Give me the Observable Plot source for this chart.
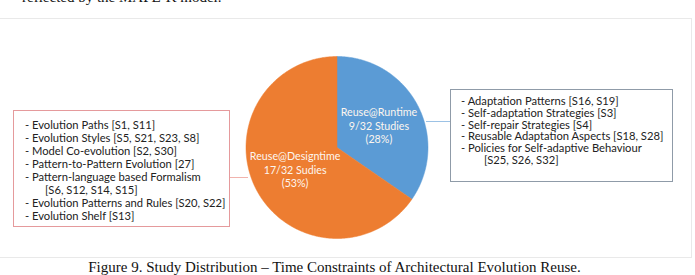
<!DOCTYPE html>
<html><head><meta charset="utf-8">
<script src="https://cdn.jsdelivr.net/npm/d3@7"></script>
<script src="https://cdn.jsdelivr.net/npm/@observablehq/plot@0.6"></script>
<style>
html,body{margin:0;padding:0;background:#fff;}
body{width:695px;height:275px;overflow:hidden;position:relative;}
#topline{position:absolute;left:22px;top:-11px;font:15px "Liberation Serif",serif;color:#111;white-space:nowrap;}
#panel{position:absolute;left:-2px;top:18px;width:693px;height:238px;border-top:1px solid #e9e9e9;border-bottom:1px solid #e9e9e9;border-right:1px solid #e9e9e9;}
#chart{position:absolute;left:0;top:0;}
.box{position:absolute;background:#fff;font-family:Lato,"Open Sans",sans-serif;font-size:11.2px;color:#222;white-space:pre;box-sizing:border-box;}
#leftbox{left:13px;top:110px;width:217px;height:117px;border:1.3px solid #e59a9c;padding:7px 0 0 11px;line-height:13px;}
#rightbox{left:450px;top:89px;width:223px;height:93px;border:1.3px solid #8f9ba8;padding:5px 0 0 10px;line-height:11.8px;}
.conn{position:absolute;height:0;}
#connL{left:229px;top:177px;width:19px;border-top:1.3px solid #f1b3ad;}
#connR{left:426px;top:121px;width:25px;border-top:1.3px solid #9cc2e5;}
#caption{position:absolute;left:0;width:669px;top:259px;text-align:center;font:15px "Liberation Serif",serif;color:#111;white-space:nowrap;}
</style></head><body>
<div id="topline">reflected by the MAPE-K model.</div>
<div id="panel"></div>
<div id="chart"></div>
<div class="conn" id="connL"></div>
<div class="conn" id="connR"></div>
<div class="box" id="leftbox"></div>
<div class="box" id="rightbox"></div>
<div id="caption">Figure 9. Study Distribution – Time Constraints of Architectural Evolution Reuse.</div>
<script>
// ---- data ----
const categories = ["Reuse@Runtime", "Reuse@Designtime"];
const studies = [9, 17];
const studyTexts = ["9/32 Studies", "17/32 Sudies"];
const percentTexts = ["(28%)", "(53%)"];
const sliceColors = ["#5B9BD5", "#ED7D31"];
const runtimeItems = [
  "- Adaptation Patterns [S16, S19]",
  "- Self-adaptation Strategies [S3]",
  "- Self-repair Strategies [S4]",
  "- Reusable Adaptation Aspects [S18, S28]",
  "- Policies for Self-adaptive Behaviour",
  "        [S25, S26, S32]"
];
const designtimeItems = [
  "- Evolution Paths [S1, S11]",
  "- Evolution Styles [S5, S21, S23, S8]",
  "- Model Co-evolution [S2, S30]",
  "- Pattern-to-Pattern Evolution [27]",
  "- Pattern-language based Formalism",
  "       [S6, S12, S14, S15]",
  "- Evolution Patterns and Rules [S20, S22]",
  "- Evolution Shelf [S13]"
];
const captionText = "Figure 9. Study Distribution – Time Constraints of Architectural Evolution Reuse.";

// ---- layout (pixels) ----
const W = 695, H = 258, cx = 336.5, cy = 147, R = 91;

// pie geometry in unit-radius coordinates (y up)
const arcs = d3.pie().sort(null).value(d => d)(studies);
const wedgePts = [];
arcs.forEach((a, i) => {
  const n = Math.max(2, Math.ceil((a.endAngle - a.startAngle) / (Math.PI / 360)));
  wedgePts.push({cat: categories[i], x: 0, y: 0});
  for (let k = 0; k <= n; k++) {
    const t = a.startAngle + (a.endAngle - a.startAngle) * k / n;
    wedgePts.push({cat: categories[i], x: Math.sin(t), y: Math.cos(t)});
  }
  wedgePts.push({cat: categories[i], x: 0, y: 0});
});
const labelR = [0.52, 0.52];
const labels = arcs.map((a, i) => {
  const m = (a.startAngle + a.endAngle) / 2;
  return {cat: categories[i], x: labelR[i] * Math.sin(m), y: labelR[i] * Math.cos(m),
          text: categories[i] + "\n" + studyTexts[i] + "\n" + percentTexts[i]};
});

const chart = Plot.plot({
  width: W, height: H,
  margin: 0,
  x: {domain: [-cx / R, (W - cx) / R], axis: null},
  y: {domain: [-(H - cy) / R, cy / R], axis: null},
  color: {domain: categories, range: sliceColors},
  style: {background: "transparent", overflow: "visible"},
  marks: [
    Plot.line(wedgePts, {x: "x", y: "y", z: "cat", fill: "cat", stroke: "cat", strokeWidth: 0.5}),
    Plot.text(labels, {x: "x", y: "y", text: "text", fill: "#fdf6ef", fontSize: 10.7,
      lineHeight: 1.25, fontFamily: "Lato, 'Open Sans', sans-serif", textAnchor: "middle"})
  ]
});
document.getElementById("chart").appendChild(chart);
document.getElementById("leftbox").textContent = designtimeItems.join("\n");
document.getElementById("rightbox").textContent = runtimeItems.join("\n");
document.getElementById("caption").textContent = captionText;
</script>
</body></html>
